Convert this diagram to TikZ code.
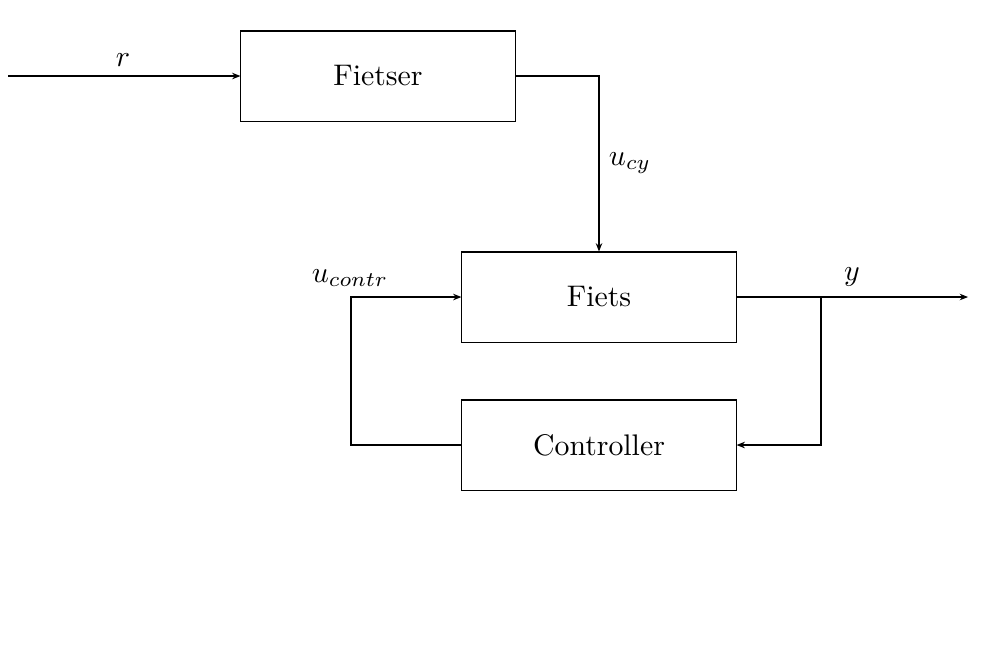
\documentclass[tikz,border=0pt]{standalone}
\usetikzlibrary{arrows.meta}
\begin{document}
\begin{tikzpicture}[x=0.0118cm,y=-0.0118cm,line width=0.35pt,
  blockbox/.style={draw,minimum width=3.233cm,minimum height=1.062cm,inner sep=0pt},
  sig/.style={-{Stealth[length=2.8pt,width=2.2pt]}},
  lbl/.style={inner sep=0pt}]
\useasboundingbox (0,0) rectangle (1000,666);
\node[blockbox] (fietser) at (378,76) {Fietser};
\node[blockbox] (fiets) at (599,297) {Fiets};
\node[blockbox] (contr) at (599,445) {Controller};
\coordinate (rin) at (8,76);
\coordinate (yout) at (968,297);
\coordinate (branch) at (821,297);
\coordinate (fb) at (351,445);
\draw[sig] (rin) -- (fietser.west);
\node[lbl] (rlab) at (123,60) {$r$};
\draw[sig] (fietser.east) -| (fiets.north);
\node[lbl] (ucylab) at (630,163) {$u_{cy}$};
\draw[sig] (fiets.east) -- (yout);
\node[lbl] (ylab) at (852,277) {$y$};
\draw[sig] (branch) |- (contr.east);
\draw[sig] (contr.west) -| (fb) |- (fiets.west);
\node[lbl] (uclab) at (350,278) {$u_{contr}$};
\end{tikzpicture}
\end{document}
